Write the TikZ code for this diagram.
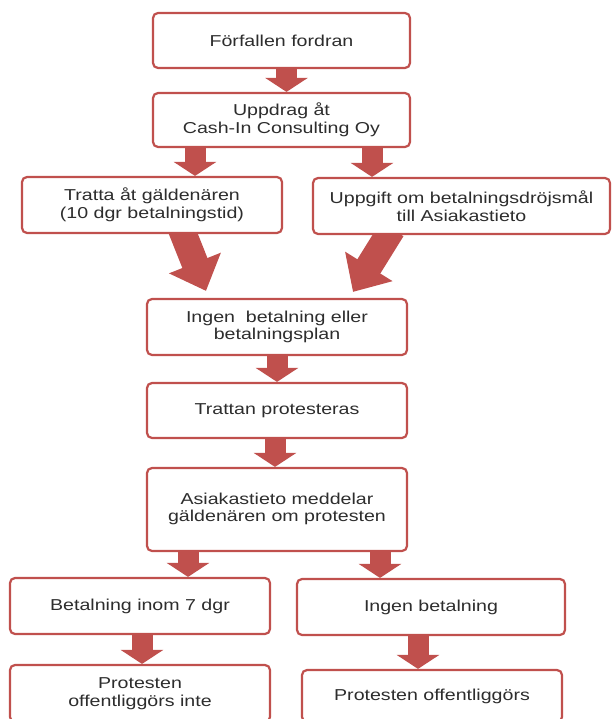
\documentclass[tikz,border=0pt]{standalone}
\usepackage{fontspec}
\setmainfont{Liberation Sans}[FakeStretch=1.24]
\usetikzlibrary{arrows.meta,calc}
\definecolor{boxred}{RGB}{192,80,77}
\definecolor{txt}{RGB}{45,45,45}
\pgfdeclarelayer{back}
\pgfdeclarelayer{bg}
\pgfsetlayers{back,bg,main}
\begin{document}
\begin{tikzpicture}[x=1pt,y=-1pt,
  box/.style={draw=boxred, line width=2.2pt, rounded corners=5pt, fill=white,
    align=center, text=txt, font=\fontsize{15.8}{17.5}\selectfont, inner sep=0pt},
  flow/.style={draw=boxred, line width=21pt, -{Triangle[width=42pt,length=14pt]}},
  bigflow/.style={draw=boxred, line width=27pt, -{Triangle[width=54pt,length=30pt]}}]
\clip (0,0) rectangle (612,719);
\begin{pgfonlayer}{back}
\fill[white] (0,0) rectangle (612,719);
\end{pgfonlayer}
\node[box, minimum width=257pt, minimum height=55pt] (B1) at (281.5,40.5) {Förfallen fordran};
\node[box, minimum width=257pt, minimum height=54pt] (B2) at (281.5,120) {Uppdrag åt\\Cash-In Consulting Oy};
\node[box, minimum width=260pt, minimum height=56pt] (B3) at (152,205) {Tratta åt gäldenären\\(10 dgr betalningstid)};
\node[box, minimum width=297pt, minimum height=56pt] (B4) at (461.5,206) {Uppgift om betalningsdröjsmål\\till Asiakastieto};
\node[box, minimum width=260pt, minimum height=56pt] (B5) at (277,327) {Ingen\ \ betalning eller\\betalningsplan};
\node[box, minimum width=260pt, minimum height=55pt] (B6) at (277,410.5) {Trattan protesteras};
\node[box, minimum width=260pt, minimum height=83pt] (B7) at (277,509.5) {\raisebox{3pt}{\begin{tabular}{@{}c@{}}Asiakastieto meddelar\\gäldenären om protesten\end{tabular}}};
\node[box, minimum width=260pt, minimum height=56pt] (B8) at (140,606) {Betalning inom 7 dgr};
\node[box, minimum width=268pt, minimum height=56pt] (B9) at (431,607) {Ingen betalning};
\node[box, minimum width=260pt, minimum height=57pt] (B10) at (140,693.5) {Protesten\\offentliggörs inte};
\node[box, minimum width=260pt, minimum height=52pt] (B11) at (432,696) {Protesten offentliggörs};
\begin{pgfonlayer}{bg}
\draw[flow] ([xshift=5pt]B1.south) -- ([xshift=5pt]B1.south |- B2.north);
\draw[flow] ([xshift=-86.5pt]B2.south) -- ([xshift=-86.5pt]B2.south |- B3.north);
\draw[flow] ([xshift=90.5pt]B2.south) -- ([xshift=90.5pt]B2.south |- B4.north);
\draw[bigflow] ([xshift=29pt,yshift=6pt]B3.south) -- ([xshift=-71pt,yshift=7pt]B5.north);
\draw[bigflow] ([xshift=-69.5pt,yshift=6pt]B4.south) -- ([xshift=76pt,yshift=6pt]B5.north);
\draw[flow] (B5.south) -- (B6.north);
\draw[flow] ([xshift=-2pt]B6.south) -- ([xshift=-2pt]B6.south |- B7.north);
\draw[flow] ([xshift=-89pt]B7.south) -- ([xshift=-89pt]B7.south |- B8.north);
\draw[flow] ([xshift=103pt]B7.south) -- ([xshift=103pt]B7.south |- B9.north);
\draw[flow] ([xshift=2pt]B8.south) -- ([xshift=2pt]B8.south |- B10.north);
\draw[flow] ([xshift=-13pt]B9.south) -- ([xshift=-13pt]B9.south |- B11.north);
\end{pgfonlayer}
\end{tikzpicture}
\end{document}
